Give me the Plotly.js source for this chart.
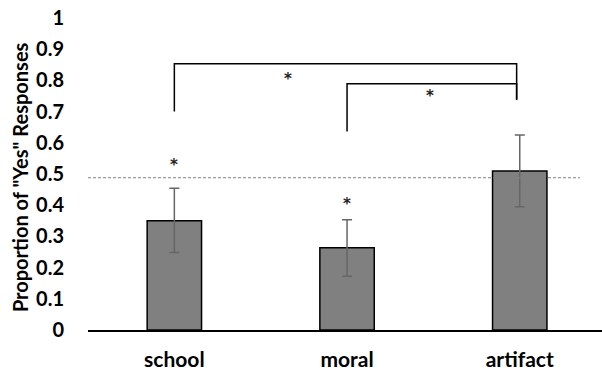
<!DOCTYPE html>
<html>
<head>
<meta charset="utf-8">
<script src="https://cdn.plot.ly/plotly-3.0.1.min.js"></script>
<style>html,body{margin:0;padding:0;background:#fff;}#chart{width:602px;height:372px;}</style>
</head>
<body>
<div id="chart"></div>
<script>
// Data
var categories = ["school", "moral", "artifact"];
var values = [0.350, 0.264, 0.510];
var errUpper = [0.104, 0.089, 0.115];
var errLower = [0.102, 0.092, 0.115];
var chanceLevel = 0.488;
var yTickVals = [0, 0.1, 0.2, 0.3, 0.4, 0.5, 0.6, 0.7, 0.8, 0.9, 1];
var yTickText = ["0", "0.1", "0.2", "0.3", "0.4", "0.5", "0.6", "0.7", "0.8", "0.9", "1"];
// comparison brackets: [left category index, right category index, top y, left foot y, right foot y, star x, star y]
var bracketA = [0, 1.982, 0.853, 0.700, 0.738, 0.66, 0.817];
var bracketB = [1, 1.982, 0.789, 0.636, 0.738, 1.48, 0.764];
// single-bar star marks: [x index, y]
var barStars = [[0, 0.542], [1, 0.417]];

var FONT = "Lato, 'Open Sans', sans-serif";
var STARFONT = "'DejaVu Sans', sans-serif";

var trace = {
  type: "bar",
  x: [0, 1, 2],
  y: values,
  width: 0.315,
  marker: {color: "#808080", line: {color: "#000000", width: 1.5}},
  error_y: {type: "data", symmetric: false, array: errUpper, arrayminus: errLower,
            color: "#666666", thickness: 1.5, width: 5},
  hoverinfo: "skip"
};

function bracket(b) {
  return {type: "path", xref: "x", yref: "y",
    path: "M " + b[0] + " " + b[3] + " L " + b[0] + " " + b[2] + " L " + b[1] + " " + b[2] + " L " + b[1] + " " + b[4],
    line: {color: "#000000", width: 1.5}};
}

var shapes = [
  {type: "line", xref: "paper", yref: "y", x0: 0, x1: (580 - 88) / 514, y0: chanceLevel, y1: chanceLevel,
   line: {color: "#808080", width: 1, dash: "3px,2px"}},
  bracket(bracketA),
  bracket(bracketB)
];

function star(x, y) {
  return {xref: "x", yref: "y", x: x, y: y, text: "*", showarrow: false, yshift: -4,
    font: {family: STARFONT, size: 15, color: "#222", weight: "bold"}};
}

var annotations = [
  {xref: "paper", yref: "paper", x: (20 - 88) / 514, y: 0.49, text: "Proportion of \"Yes\" Responses",
   textangle: -90, showarrow: false, font: {family: FONT, size: 20, color: "#000", weight: "bold"},
   xanchor: "center", yanchor: "middle"},
  star(bracketA[5], bracketA[6]),
  star(bracketB[5], bracketB[6])
];
barStars.forEach(function (s) { annotations.push(star(s[0], s[1])); });

var layout = {
  width: 602, height: 372,
  margin: {l: 88, r: 0, t: 18, b: 42, pad: 0},
  paper_bgcolor: "#ffffff", plot_bgcolor: "#ffffff",
  showlegend: false,
  font: {family: FONT, color: "#000"},
  xaxis: {
    range: [-0.5, -0.5 + 514 / 172.7],
    tickvals: [0, 1, 2], ticktext: categories,
    showgrid: false, zeroline: false,
    showline: true, linecolor: "#000", linewidth: 1.5,
    ticks: "outside", ticklen: 10, tickcolor: "rgba(0,0,0,0)",
    tickfont: {family: FONT, size: 21, color: "#000", weight: "bold"},
    fixedrange: true
  },
  yaxis: {
    range: [0, 1],
    tickvals: yTickVals, ticktext: yTickText,
    showgrid: false, zeroline: false, showline: false,
    ticks: "outside", ticklen: 19, tickcolor: "rgba(0,0,0,0)",
    tickfont: {family: FONT, size: 20, color: "#000", weight: "bold"},
    fixedrange: true
  },
  shapes: shapes,
  annotations: annotations
};

Plotly.newPlot("chart", [trace], layout, {displayModeBar: false, staticPlot: true});
</script>
</body>
</html>
